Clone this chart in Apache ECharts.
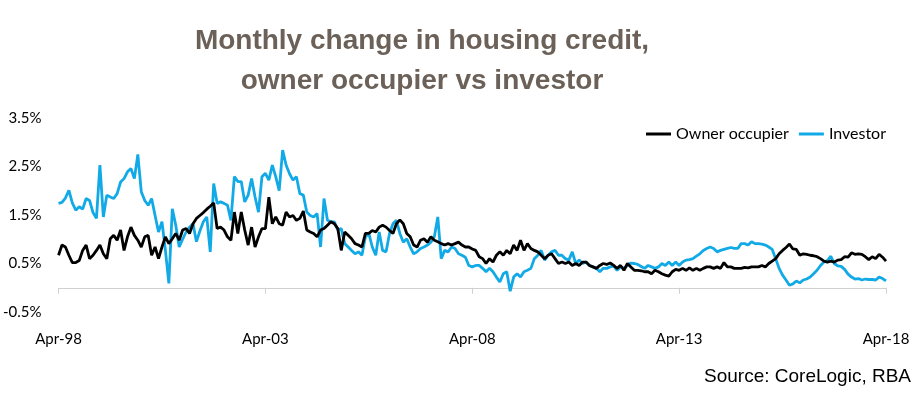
<!DOCTYPE html>
<html>
<head>
<meta charset="utf-8">
<script src="https://cdn.jsdelivr.net/npm/echarts@6/dist/echarts.min.js"></script>
<style>
html,body{margin:0;padding:0;background:#fff;}
#chart{width:915px;height:395px;}
</style>
</head>
<body>
<div id="chart"></div>
<script>
// Month labels Apr-98 .. Apr-18
const monthNames = ['Jan','Feb','Mar','Apr','May','Jun','Jul','Aug','Sep','Oct','Nov','Dec'];
const categories = [];
for (let i = 0; i < 241; i++) {
  const m = (3 + i) % 12;
  const y = 1998 + Math.floor((3 + i) / 12);
  categories.push(monthNames[m] + '-' + String(y).slice(2));
}
const xTickLabels = ['Apr-98', 'Apr-03', 'Apr-08', 'Apr-13', 'Apr-18'];
const yTickLabels = ['-0.5%', '0.5%', '1.5%', '2.5%', '3.5%'];

const ownerOccupier = [
0.67,0.88,0.84,0.67,0.52,0.52,0.56,0.77,0.88,0.60,
0.67,0.77,0.88,0.70,0.60,1.01,1.08,0.98,1.19,0.77,
1.05,1.25,1.08,0.98,0.84,1.05,1.08,0.67,0.84,0.60,
0.84,1.05,0.91,1.01,1.12,0.98,1.19,1.22,1.12,1.32,
1.43,1.49,1.55,1.62,1.68,1.75,1.22,1.25,1.19,1.05,
0.98,1.56,1.12,1.56,1.19,0.88,1.25,0.84,1.05,1.22,
1.22,1.87,1.32,1.46,1.32,1.29,1.56,1.46,1.49,1.39,
1.43,1.58,1.19,1.15,1.12,1.05,1.19,1.22,1.29,1.36,
1.32,1.22,0.77,1.15,1.08,1.01,0.91,0.88,0.84,1.12,
1.12,1.18,1.15,1.25,1.29,1.25,1.18,1.12,1.32,1.40,
1.32,1.12,1.05,0.88,0.84,0.98,1.01,0.94,1.05,0.98,
0.95,0.91,0.88,0.91,0.88,0.91,0.94,0.88,0.84,0.84,
0.80,0.77,0.64,0.60,0.50,0.60,0.53,0.67,0.74,0.67,
0.77,0.70,0.88,0.77,0.98,0.77,0.91,0.81,0.77,0.74,
0.67,0.60,0.67,0.70,0.60,0.50,0.53,0.50,0.53,0.46,
0.50,0.46,0.53,0.53,0.46,0.43,0.40,0.46,0.50,0.48,
0.51,0.46,0.40,0.46,0.36,0.50,0.43,0.36,0.36,0.35,
0.33,0.33,0.29,0.36,0.33,0.29,0.26,0.24,0.33,0.38,
0.36,0.40,0.36,0.41,0.36,0.40,0.36,0.40,0.43,0.43,
0.40,0.43,0.40,0.52,0.43,0.43,0.40,0.40,0.40,0.42,
0.41,0.43,0.43,0.43,0.46,0.43,0.50,0.55,0.60,0.70,
0.77,0.83,0.90,0.80,0.79,0.67,0.70,0.69,0.67,0.66,
0.64,0.60,0.55,0.53,0.55,0.53,0.57,0.58,0.64,0.63,
0.72,0.69,0.70,0.69,0.64,0.58,0.64,0.60,0.69,0.63,
0.55
];

const investor = [
1.74,1.76,1.85,2.01,1.75,1.60,1.67,1.62,1.84,1.80,
1.55,1.43,2.53,1.46,1.91,1.87,1.84,1.94,2.18,2.25,
2.39,2.46,2.25,2.75,1.98,1.80,1.70,1.84,1.49,1.15,
1.36,0.77,0.09,1.63,1.29,0.84,1.00,1.15,1.25,1.32,
0.95,1.17,1.36,1.46,0.74,2.15,1.74,1.77,1.74,1.70,
1.39,2.29,2.19,2.19,1.77,1.91,2.25,1.87,1.56,2.29,
2.36,2.22,2.53,2.29,2.00,2.84,2.53,2.35,2.22,2.29,
1.94,1.91,1.56,1.49,1.46,1.53,0.84,1.84,1.39,1.36,
1.36,1.19,1.22,0.91,0.84,0.77,0.70,0.74,0.67,1.05,
1.12,0.84,0.67,1.15,0.77,0.74,1.12,1.32,1.39,1.12,
0.94,1.01,0.84,0.70,0.74,0.81,0.84,0.88,0.94,1.05,
1.46,0.60,0.77,0.74,0.84,0.81,0.70,0.67,0.63,0.46,
0.43,0.46,0.46,0.40,0.33,0.40,0.33,0.22,0.12,0.29,
0.33,-0.07,0.22,0.29,0.22,0.33,0.36,0.40,0.60,0.67,
0.77,0.57,0.67,0.74,0.77,0.67,0.67,0.60,0.57,0.74,
0.50,0.57,0.50,0.53,0.46,0.43,0.40,0.33,0.40,0.40,
0.43,0.45,0.36,0.43,0.40,0.46,0.51,0.50,0.48,0.44,
0.40,0.46,0.43,0.40,0.43,0.50,0.46,0.53,0.46,0.53,
0.46,0.53,0.57,0.58,0.60,0.65,0.70,0.77,0.81,0.84,
0.81,0.74,0.77,0.79,0.81,0.83,0.81,0.81,0.91,0.91,
0.88,0.95,0.91,0.91,0.90,0.88,0.84,0.79,0.60,0.40,
0.26,0.16,0.05,0.08,0.14,0.10,0.16,0.18,0.22,0.29,
0.36,0.46,0.53,0.56,0.65,0.50,0.45,0.44,0.38,0.28,
0.22,0.18,0.19,0.16,0.18,0.17,0.17,0.16,0.22,0.19,
0.14
];

const chart = echarts.init(document.getElementById('chart'), null, {renderer: 'canvas'});
const showTick = (idx) => xTickLabels.indexOf(categories[idx]) >= 0;

chart.setOption({
  animation: false,
  backgroundColor: '#ffffff',
  graphic: [
    {
      type: 'text', x: 422, y: 61,
      style: {
        text: 'Monthly change in housing credit,\nowner occupier vs investor',
        font: 'bold 28px "Liberation Sans", Arial, sans-serif',
        fill: '#6b6158', textAlign: 'center', textVerticalAlign: 'middle', lineHeight: 40
      }
    },
    {
      type: 'text', x: 911, y: 377,
      style: {
        text: 'Source: CoreLogic, RBA',
        font: '19px "Liberation Sans", Arial, sans-serif',
        fill: '#000000', textAlign: 'right', textVerticalAlign: 'middle'
      }
    }
  ],
  legend: {
    right: 24, top: 121,
    icon: 'rect', itemWidth: 25, itemHeight: 3, itemGap: 10,
    textStyle: {fontFamily: 'Lato', fontSize: 16, color: '#000'},
    data: ['Owner occupier', 'Investor']
  },
  grid: {left: 58, right: 29, top: 118, bottom: 83, containLabel: false},
  xAxis: {
    type: 'category', data: categories, boundaryGap: false,
    axisLine: {onZero: true, lineStyle: {color: '#d0d0d0', width: 1}},
    axisTick: {show: true, interval: showTick, length: 6, lineStyle: {color: '#d0d0d0'}},
    axisLabel: {interval: showTick, margin: 20, fontFamily: 'Lato', fontSize: 15, color: '#000'},
    splitLine: {show: false}
  },
  yAxis: {
    type: 'value', min: -0.5, max: 3.5, interval: 0.5,
    axisLine: {show: false}, axisTick: {show: false}, splitLine: {show: false},
    axisLabel: {
      margin: 17, fontFamily: 'Lato', fontSize: 15, color: '#000',
      formatter: function (v) {
        const lab = (Math.round(v * 10) / 10).toFixed(1) + '%';
        return yTickLabels.indexOf(lab) >= 0 ? lab : '';
      }
    }
  },
  series: [
    {name: 'Owner occupier', type: 'line', data: ownerOccupier, showSymbol: false, symbol: 'none',
     lineStyle: {color: '#000000', width: 2.8}, itemStyle: {color: '#000000'}, z: 3},
    {name: 'Investor', type: 'line', data: investor, showSymbol: false, symbol: 'none',
     lineStyle: {color: '#12aae6', width: 2.8}, itemStyle: {color: '#12aae6'}, z: 2}
  ]
});
</script>
</body>
</html>
